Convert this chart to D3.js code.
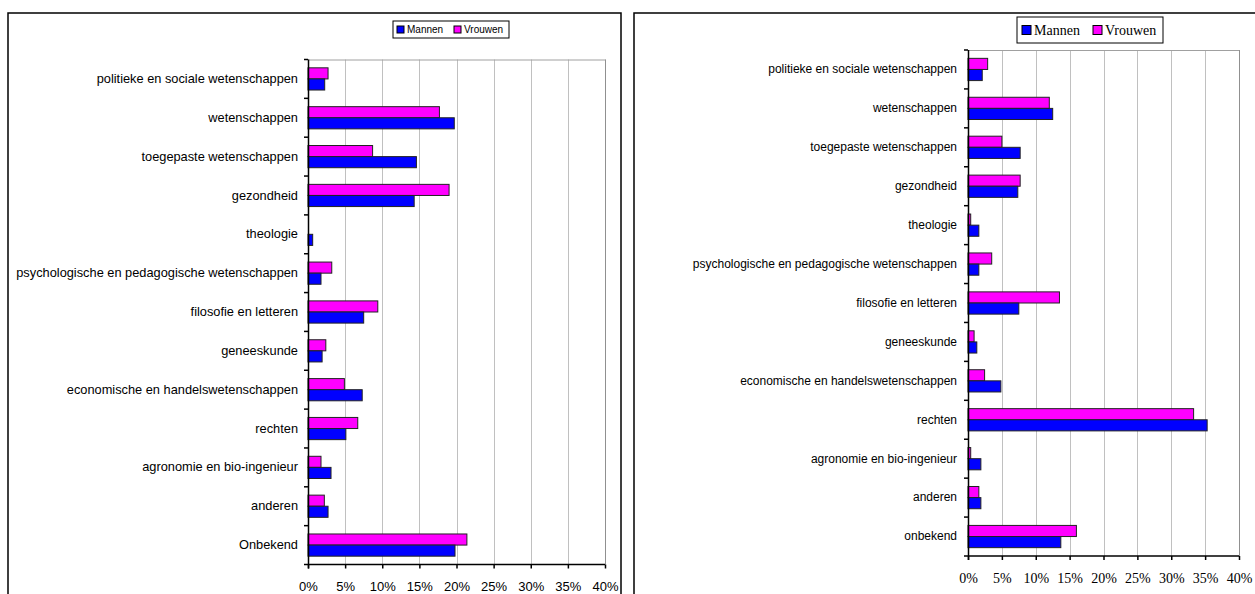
<!DOCTYPE html>
<html><head><meta charset="utf-8">
<script src="https://cdn.jsdelivr.net/npm/d3@7"></script>
<style>
html,body{margin:0;padding:0;background:#fff;}
svg{display:block;}
</style></head>
<body>
<svg id="c" width="1255" height="594"></svg>
<script>
// ---- data ----
const categoriesLeft = ["politieke en sociale wetenschappen","wetenschappen","toegepaste wetenschappen","gezondheid","theologie","psychologische en pedagogische wetenschappen","filosofie en letteren","geneeskunde","economische en handelswetenschappen","rechten","agronomie en bio-ingenieur","anderen","Onbekend"];
const mannenLeft  = [2.25,19.7,14.6,14.3,0.63,1.75,7.5,1.9,7.3,5.1,3.1,2.7,19.8];
const vrouwenLeft = [2.7,17.7,8.7,19.0,0,3.2,9.4,2.4,4.9,6.7,1.75,2.2,21.4];

const categoriesRight = ["politieke en sociale wetenschappen","wetenschappen","toegepaste wetenschappen","gezondheid","theologie","psychologische en pedagogische wetenschappen","filosofie en letteren","geneeskunde","economische en handelswetenschappen","rechten","agronomie en bio-ingenieur","anderen","onbekend"];
const mannenRight  = [2.1,12.5,7.7,7.35,1.6,1.6,7.5,1.3,4.85,35.3,1.9,1.9,13.7];
const vrouwenRight = [2.9,12.0,5.0,7.7,0.4,3.5,13.5,0.9,2.45,33.3,0.4,1.6,16.0];

const seriesNames = ["Mannen","Vrouwen"];
const xTicks = [0,5,10,15,20,25,30,35,40];

const colors = {Mannen:"#0000FF", Vrouwen:"#FF00FF"};
const svg = d3.select("#c");

function drawChart(cfg){
  const g = svg.append("g");
  g.append("rect").attr("x",cfg.box[0]).attr("y",cfg.box[1]).attr("width",cfg.box[2]).attr("height",cfg.box[3])
    .attr("fill","#fff").attr("stroke","#000").attr("stroke-width",1.5);

  const x = d3.scaleLinear().domain([0,40]).range([cfg.x0,cfg.x1]);
  const y = d3.scaleBand().domain(cfg.cats).range([cfg.top,cfg.bottom]).padding(0);
  const sub = d3.scaleBand().domain(["Vrouwen","Mannen"]).range([0,y.bandwidth()]).paddingInner(0).paddingOuter(0.75);

  g.append("g").selectAll("line").data(xTicks.slice(1)).join("line")
    .attr("x1",d=>Math.round(x(d))+0.5).attr("x2",d=>Math.round(x(d))+0.5)
    .attr("y1",cfg.top).attr("y2",cfg.bottom).attr("stroke","#c0c0c0").attr("stroke-width",1);
  g.append("line").attr("x1",cfg.x0).attr("x2",x(40)).attr("y1",cfg.top+0.5).attr("y2",cfg.top+0.5)
    .attr("stroke","#a0a0a0");
  g.append("line").attr("x1",Math.round(x(40))+0.5).attr("x2",Math.round(x(40))+0.5).attr("y1",cfg.top).attr("y2",cfg.bottom)
    .attr("stroke","#909090");

  const rows = cfg.cats.map((c,i)=>({cat:c, Mannen:cfg.m[i], Vrouwen:cfg.v[i]}));
  const flat = [];
  rows.forEach(r=>["Vrouwen","Mannen"].forEach(s=>flat.push({cat:r.cat,s:s,val:r[s]})));
  g.append("g").selectAll("rect").data(flat.filter(d=>d.val>0)).join("rect")
    .attr("x",x(0)).attr("y",d=>y(d.cat)+sub(d.s))
    .attr("width",d=>x(d.val)-x(0)).attr("height",sub.bandwidth())
    .attr("fill",d=>colors[d.s]).attr("stroke","#222").attr("stroke-width",1);

  const ya = d3.axisLeft(y).tickSize(0).tickPadding(cfg.labelPad);
  const yg = g.append("g").attr("transform",`translate(${cfg.x0},0)`).call(ya);
  yg.select(".domain").remove();
  yg.selectAll("text").attr("font-family",cfg.catFont).attr("font-size",cfg.catSize).attr("fill","#000");
  g.append("line").attr("x1",cfg.x0+0.5).attr("x2",cfg.x0+0.5).attr("y1",cfg.top).attr("y2",cfg.bottom+4).attr("stroke","#000").attr("stroke-width",1.5);
  const bounds = cfg.cats.map(c=>y(c)).concat([cfg.bottom]);
  g.append("g").selectAll("line").data(bounds).join("line")
    .attr("x1",cfg.x0-4).attr("x2",cfg.x0).attr("y1",d=>d).attr("y2",d=>d).attr("stroke","#000").attr("stroke-width",1.5);

  const xa = d3.axisBottom(x).tickValues(xTicks).tickFormat(d=>d+"%").tickSize(4).tickPadding(cfg.xPad);
  const xg = g.append("g").attr("transform",`translate(0,${cfg.bottom})`).call(xa);
  xg.select(".domain").attr("stroke","#000").attr("stroke-width",1.5).attr("d",`M${cfg.x0},0H${x(40)}`);
  xg.selectAll(".tick line").attr("stroke","#000").attr("stroke-width",1.5);
  xg.selectAll("text").attr("font-family",cfg.tickFont).attr("font-size",cfg.tickSize).attr("fill","#000");

  const L = cfg.legend;
  const lg = g.append("g");
  lg.append("rect").attr("x",L.x).attr("y",L.y).attr("width",L.w).attr("height",L.h)
    .attr("fill","#fff").attr("stroke","#000").attr("stroke-width",1);
  seriesNames.forEach((s,i)=>{
    lg.append("rect").attr("x",L.items[i]).attr("y",L.y+(L.h-L.sq)/2).attr("width",L.sq).attr("height",L.sq)
      .attr("fill",colors[s]).attr("stroke","#000").attr("stroke-width",1);
    lg.append("text").attr("x",L.items[i]+L.sq+3).attr("y",L.y+L.h/2).attr("dy","0.35em")
      .attr("font-family",L.font).attr("font-size",L.size).text(s);
  });
}

drawChart({
  box:[8,13,613,600],
  cats:categoriesLeft, m:mannenLeft, v:vrouwenLeft,
  x0:308, x1:605, top:59.5, bottom:564.5,
  catFont:"Liberation Sans, Arial, sans-serif", catSize:12.8, labelPad:10,
  tickFont:"Liberation Sans, Arial, sans-serif", tickSize:13, xPad:13,
  legend:{x:393,y:21,w:116,h:17,sq:7,items:[397,454],font:"Liberation Sans, Arial, sans-serif",size:10}
});
drawChart({
  box:[634,13,640,600],
  cats:categoriesRight, m:mannenRight, v:vrouwenRight,
  x0:968, x1:1239, top:50, bottom:556,
  catFont:"Liberation Sans, Arial, sans-serif", catSize:12, labelPad:11,
  tickFont:"Liberation Serif, Times New Roman, serif", tickSize:14, xPad:13,
  legend:{x:1017,y:17,w:146,h:26,sq:9,items:[1022,1093],font:"Liberation Serif, Times New Roman, serif",size:14}
});
</script>
</body></html>
